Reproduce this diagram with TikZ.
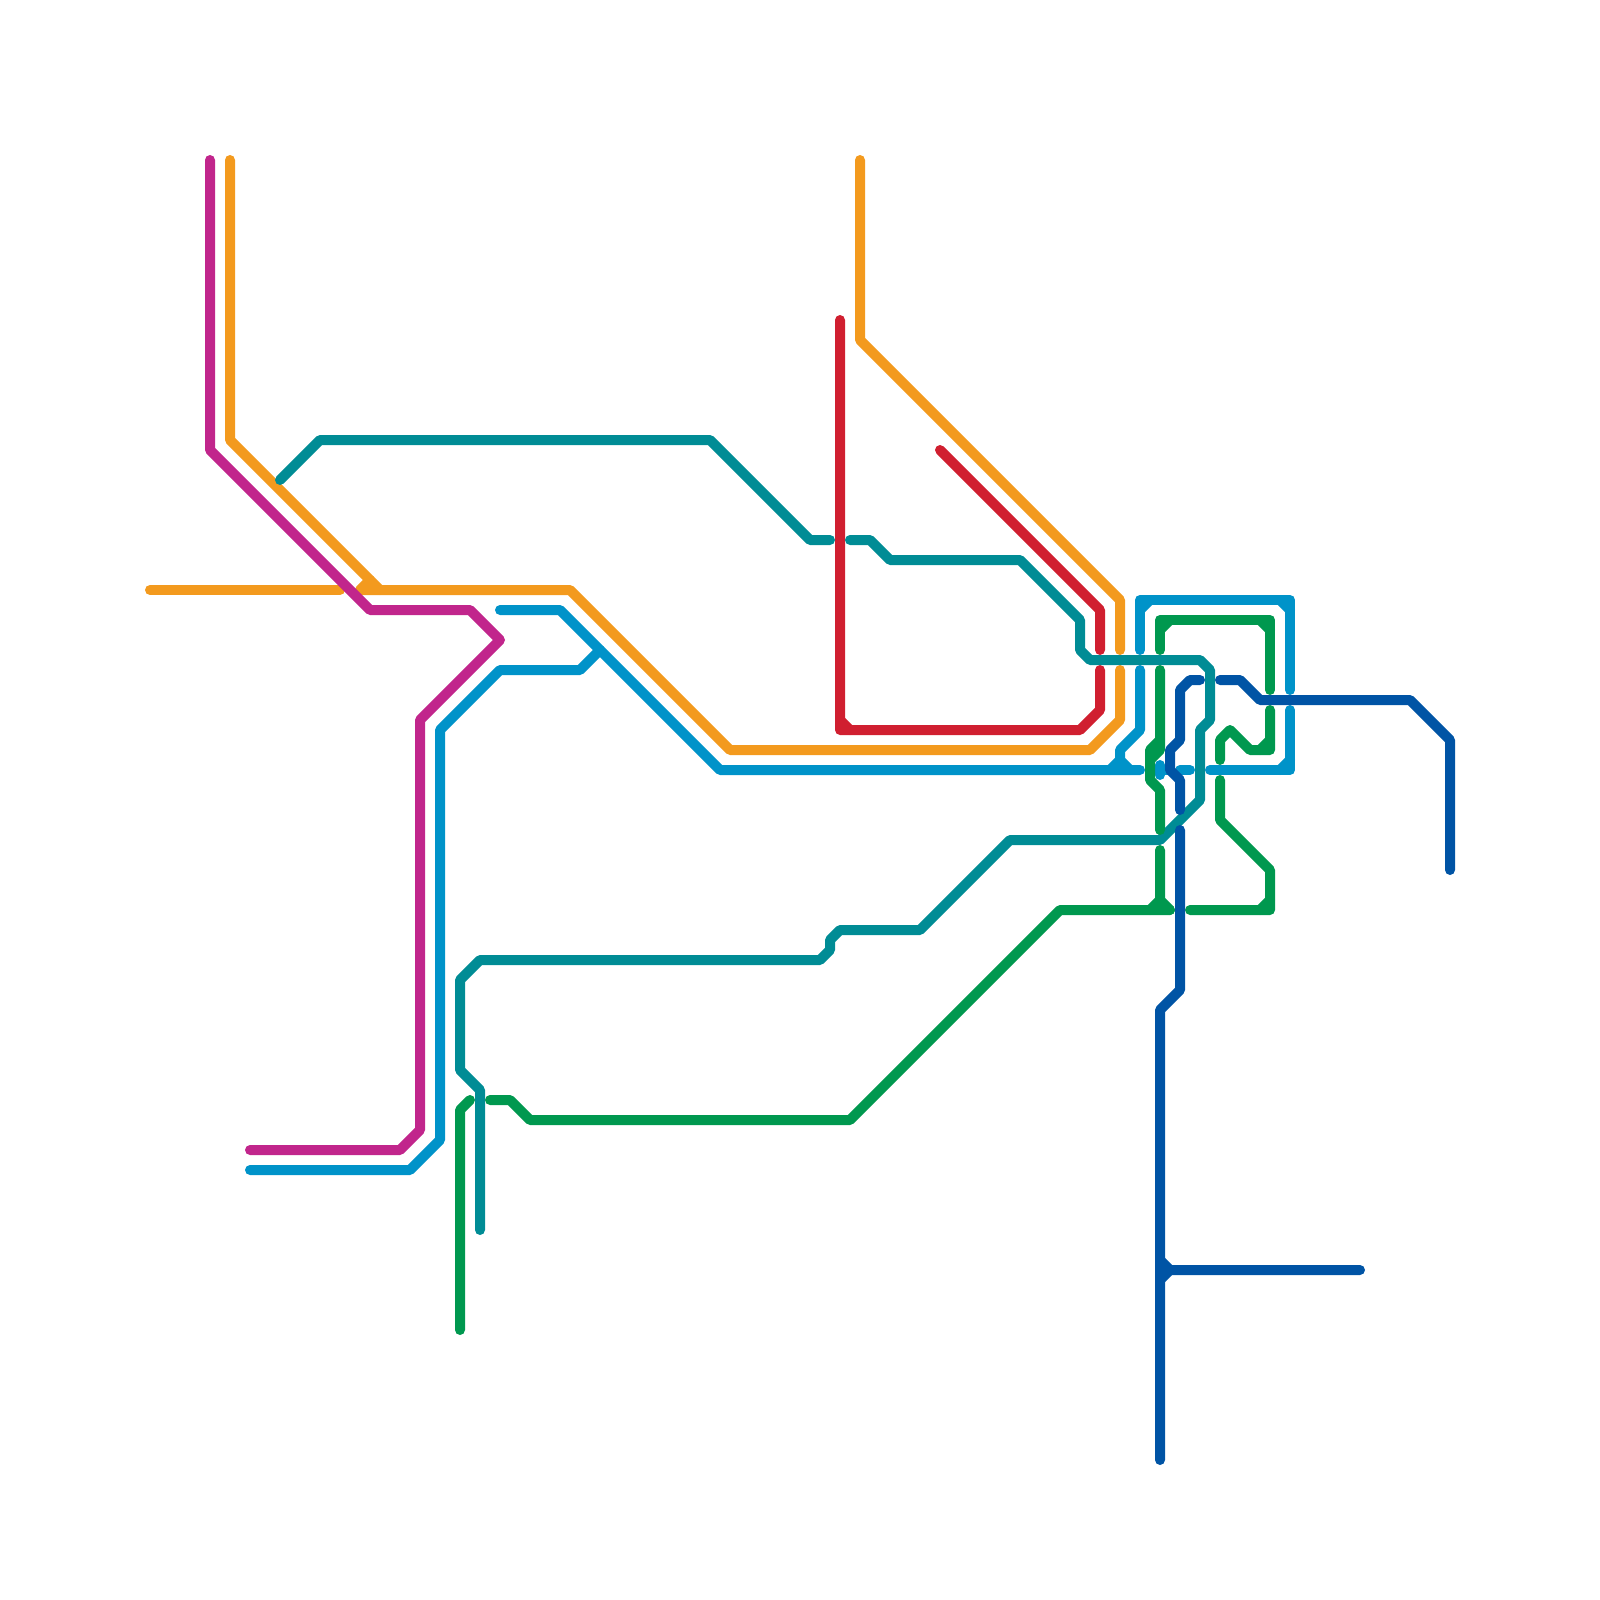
\documentclass[tikz,border=0pt]{standalone}
\definecolor{metroorange}{RGB}{243,154,30}
\definecolor{metrored}{RGB}{208,31,48}
\definecolor{metromagenta}{RGB}{193,38,140}
\definecolor{metroteal}{RGB}{0,140,149}
\definecolor{metroblue}{RGB}{0,147,201}
\definecolor{metrogreen}{RGB}{0,152,79}
\definecolor{metronavy}{RGB}{0,84,165}

\begin{document}
\begin{tikzpicture}[
  x=1pt,y=-1pt,
  metroline/.style={line width=10pt,line cap=round,line join=round},
]
  \useasboundingbox (0,0) rectangle (1600,1600);

  % orange
  \draw[metroline,metroorange] (230,160) -- (230,440) -- (380,590);
  \draw[metroline,metroorange] (150,590) -- (340,590);
  \draw[metroline,metroorange] (1120,670) -- (1120,720) -- (1090,750) -- (730,750) -- (570,590) -- (360,590) -- (370,580);
  \draw[metroline,metroorange] (860,160) -- (860,340) -- (1120,600) -- (1120,650);

  % red
  \draw[metroline,metrored] (840,320) -- (840,730) -- (1080,730) -- (1100,710) -- (1100,670);
  \draw[metroline,metrored] (840,720) -- (850,730);
  \draw[metroline,metrored] (940,450) -- (1100,610) -- (1100,650);

  % magenta
  \draw[metroline,metromagenta] (210,160) -- (210,450) -- (370,610) -- (470,610) -- (500,640) -- (420,720) -- (420,1130) -- (400,1150) -- (250,1150);

  % teal
  \draw[metroline,metroteal] (280,480) -- (320,440) -- (710,440) -- (810,540) -- (830,540);
  \draw[metroline,metroteal] (850,540) -- (870,540) -- (890,560) -- (1020,560) -- (1080,620) -- (1080,650) -- (1090,660) -- (1200,660) -- (1210,670) -- (1210,720) -- (1200,730) -- (1200,800) -- (1160,840) -- (1010,840) -- (920,930) -- (840,930) -- (830,940) -- (830,950) -- (820,960) -- (480,960) -- (460,980) -- (460,1070) -- (480,1090) -- (480,1230);

  % light blue
  \draw[metroline,metroblue] (250,1170) -- (410,1170) -- (440,1140) -- (440,730) -- (500,670) -- (580,670) -- (600,650);
  \draw[metroline,metroblue] (500,610) -- (560,610) -- (720,770) -- (1140,770);
  \draw[metroline,metroblue] (1140,670) -- (1140,730) -- (1120,750) -- (1120,760) -- (1130,770);
  \draw[metroline,metroblue] (1110,770) -- (1120,760);
  \draw[metroline,metroblue] (1140,650) -- (1140,600) -- (1290,600) -- (1290,690);
  \draw[metroline,metroblue] (1140,610) -- (1150,600);
  \draw[metroline,metroblue] (1280,600) -- (1290,610);
  \draw[metroline,metroblue] (1290,710) -- (1290,770) -- (1210,770);
  \draw[metroline,metroblue] (1280,770) -- (1290,760);
  \draw[metroline,metroblue] (1180,770) -- (1190,770);
  \draw[metroline,metroblue] (1160,765) -- (1160,775);
  \draw[metroline,metroblue] (1160,770) -- (1170,770);

  % green
  \draw[metroline,metrogreen] (460,1330) -- (460,1110) -- (470,1100);
  \draw[metroline,metrogreen] (490,1100) -- (510,1100) -- (530,1120) -- (850,1120) -- (1060,910) -- (1170,910);
  \draw[metroline,metrogreen] (1160,850) -- (1160,900) -- (1170,910);
  \draw[metroline,metrogreen] (1150,910) -- (1160,900);
  \draw[metroline,metrogreen] (1190,910) -- (1270,910) -- (1270,870) -- (1220,820) -- (1220,780);
  \draw[metroline,metrogreen] (1260,910) -- (1270,900);
  \draw[metroline,metrogreen] (1160,650) -- (1160,620) -- (1270,620) -- (1270,690);
  \draw[metroline,metrogreen] (1160,630) -- (1170,620);
  \draw[metroline,metrogreen] (1260,620) -- (1270,630);
  \draw[metroline,metrogreen] (1160,670) -- (1160,740) -- (1150,750) -- (1150,780) -- (1160,790) -- (1160,830);
  \draw[metroline,metrogreen] (1160,740) -- (1160,750) -- (1150,760);
  \draw[metroline,metrogreen] (1220,760) -- (1220,740) -- (1230,730) -- (1250,750) -- (1270,750) -- (1270,710);
  \draw[metroline,metrogreen] (1260,750) -- (1270,740);

  % navy
  \draw[metroline,metronavy] (1160,1460) -- (1160,1010) -- (1180,990) -- (1180,830);
  \draw[metroline,metronavy] (1160,1260) -- (1170,1270) -- (1360,1270);
  \draw[metroline,metronavy] (1160,1280) -- (1170,1270);
  \draw[metroline,metronavy] (1200,680) -- (1190,680) -- (1180,690) -- (1180,740) -- (1170,750) -- (1170,770) -- (1180,780) -- (1180,810);
  \draw[metroline,metronavy] (1220,680) -- (1240,680) -- (1260,700) -- (1410,700) -- (1450,740) -- (1450,870);
\end{tikzpicture}
\end{document}
